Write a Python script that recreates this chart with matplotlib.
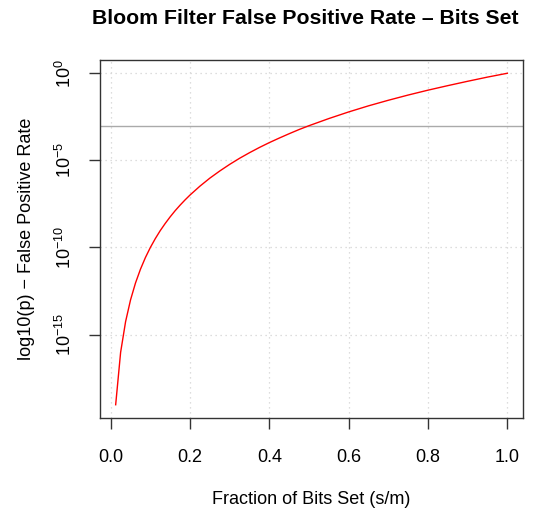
import matplotlib
matplotlib.use('Agg')
import matplotlib.pyplot as plt
from matplotlib.ticker import FixedLocator

plt.rcParams['font.family'] = ['Liberation Sans', 'DejaVu Sans']
plt.rcParams['mathtext.fontset'] = 'custom'
plt.rcParams['mathtext.rm'] = 'Liberation Sans'
plt.rcParams['mathtext.default'] = 'regular'

# fraction of bits set (s/m) and log10 of false positive rate
frac_set = [0.0125, 0.025, 0.0375, 0.05, 0.0625, 0.075, 0.0875, 0.1, 0.1125, 0.125,
            0.1375, 0.15, 0.1625, 0.175, 0.1875, 0.2, 0.225, 0.25, 0.275, 0.3,
            0.325, 0.35, 0.375, 0.4, 0.425, 0.45, 0.475, 0.5, 0.55, 0.6,
            0.65, 0.7, 0.75, 0.8, 0.85, 0.9, 0.95, 1.0]
log_fpr = [-19.03, -16.02, -14.26, -13.01, -12.04, -11.25, -10.58, -10.00, -9.49, -9.03,
           -8.62, -8.24, -7.89, -7.57, -7.27, -6.99, -6.48, -6.02, -5.61, -5.23,
           -4.88, -4.56, -4.26, -3.98, -3.72, -3.47, -3.23, -3.01, -2.60, -2.22,
           -1.87, -1.55, -1.25, -0.97, -0.71, -0.46, -0.22, 0.00]
target_log = -3

x_ticks = [0.0, 0.2, 0.4, 0.6, 0.8, 1.0]
x_labels = ['0.0', '0.2', '0.4', '0.6', '0.8', '1.0']
y_ticks = [0, -5, -10, -15]
y_labels = ['$10^{0}$', '$10^{-5}$', '$10^{-10}$', '$10^{-15}$']

fig = plt.figure(figsize=(5.33, 5.09), dpi=100)
ax = fig.add_axes([100/533, 1-418/509, 423/533, 358/509])

ax.plot(frac_set, log_fpr, color='red', lw=1.0, zorder=3)
ax.axhline(target_log, color='#aaaaaa', lw=1.0, zorder=2)

# R-style range padding (4%)
xr = frac_set[-1] - frac_set[0]
yr = max(log_fpr) - min(log_fpr)
ax.set_xlim(frac_set[0] - 0.04*xr, frac_set[-1] + 0.04*xr)
ax.set_ylim(min(log_fpr) - 0.04*yr, max(log_fpr) + 0.04*yr)

ax.xaxis.set_major_locator(FixedLocator(x_ticks))
ax.set_xticklabels(x_labels)
ax.yaxis.set_major_locator(FixedLocator(y_ticks))
ax.set_yticklabels(y_labels, rotation=90, va='center')

ax.grid(True, color='#d3d3d3', linestyle=(0, (1, 3)), lw=0.9)
ax.set_axisbelow(True)

for s in ax.spines.values():
    s.set_color('#333333')
    s.set_linewidth(1.0)

ax.tick_params(axis='both', length=8, width=1.0, color='#333333', labelsize=13)
ax.tick_params(axis='x', pad=14)
ax.tick_params(axis='y', pad=10)

ax.set_title('Bloom Filter False Positive Rate \u2013 Bits Set',
             fontsize=15.3, fontweight='bold', pad=26, x=0.485)
ax.set_xlabel('Fraction of Bits Set (s/m)', fontsize=13, labelpad=18)
ax.set_ylabel('log10(p) \u2212 False Positive Rate', fontsize=13, labelpad=14)

fig.savefig('out.png', dpi=100)
